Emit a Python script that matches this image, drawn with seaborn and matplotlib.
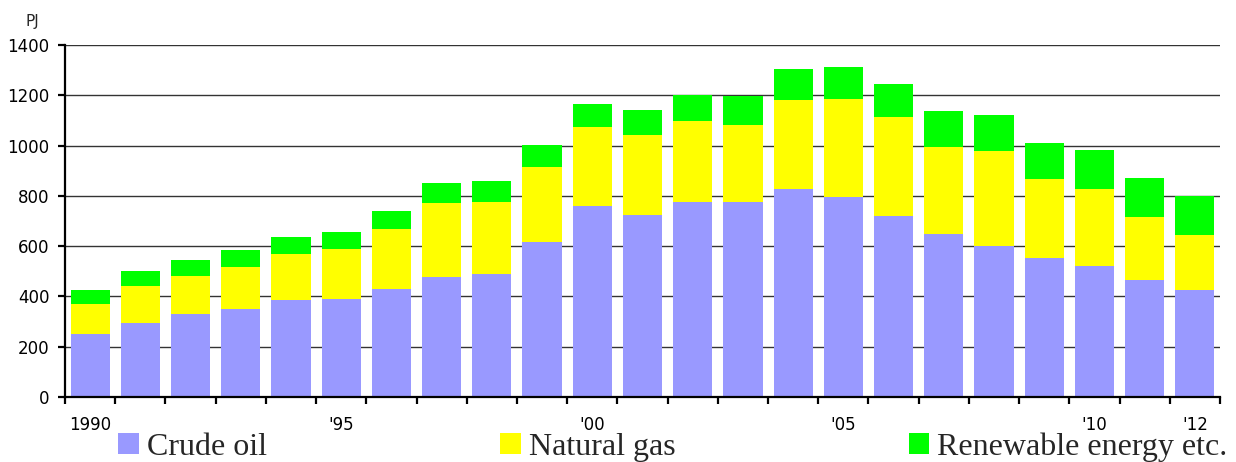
import numpy as np
import pandas as pd
import matplotlib
matplotlib.use("Agg")
import matplotlib.pyplot as plt
from matplotlib.patches import Patch
import seaborn as sns

years = list(range(1990, 2013))
crude_oil = [251, 296, 329, 349, 385, 389, 429, 476, 488, 616, 759, 723, 775, 775, 827,
             795, 719, 648, 600, 552, 520, 465, 425]
natural_gas = [119, 146, 151, 167, 183, 199, 239, 295, 287, 298, 315, 319, 323, 307, 354,
               390, 394, 346, 378, 315, 307, 250, 219]
renewable = [55, 58, 64, 68, 68, 68, 71, 80, 84, 88, 91, 99, 103, 115, 124,
             128, 132, 143, 143, 143, 155, 156, 155]
series_names = ["Crude oil", "Natural gas", "Renewable energy etc."]
colors = ["#9999FF", "#FFFF00", "#00FF00"]
tick_labels = {1990: "1990", 1995: "'95", 2000: "'00", 2005: "'05", 2010: "'10", 2012: "'12"}

sns.set_theme(style="white")
plt.rcParams['font.family'] = ['DejaVu Sans']

df = pd.DataFrame({"year": [str(y) for y in years], "oil": crude_oil,
                   "gas": natural_gas, "ren": renewable})
df["gas_top"] = df["oil"] + df["gas"]
df["total"] = df["gas_top"] + df["ren"]

fig = plt.figure(figsize=(12.36, 4.62), dpi=100)
ax = fig.add_axes([65/1236, 1 - 397/462, (1220-65)/1236, (397-45)/462])

for col, c in zip(["total", "gas_top", "oil"], [colors[2], colors[1], colors[0]]):
    sns.barplot(data=df, x="year", y=col, color=c, width=0.78, ax=ax,
                saturation=1, linewidth=0, errorbar=None, zorder=3)

ax.set_xlim(-0.5, len(years) - 0.5)
ax.set_ylim(0, 1400)
ax.set_yticks(np.arange(0, 1401, 200))
ax.yaxis.grid(True, color="#333333", linewidth=1.0, zorder=0)
ax.set_axisbelow(True)
for s in ["top", "right"]:
    ax.spines[s].set_visible(False)
for s in ["left", "bottom"]:
    ax.spines[s].set_visible(True)
    ax.spines[s].set_color("black")
    ax.spines[s].set_linewidth(1.6)
    ax.spines[s].set_zorder(5)

pos = [years.index(y) for y in tick_labels]
ax.set_xticks(pos)
ax.set_xticklabels(list(tick_labels.values()))
ax.set_xticks(np.arange(-0.5, len(years), 1.0), minor=True)
ax.tick_params(axis="x", which="major", length=0, pad=13.5, labelsize=12, colors="black")
ax.tick_params(axis="x", which="minor", length=5, width=1.6, direction="out", bottom=True, color="black")
ax.tick_params(axis="y", which="major", length=5, width=1.6, direction="out", left=True,
               pad=6, labelsize=12, colors="black")
ax.set_xlabel("")
ax.set_ylabel("")

fig.text(32/1236, 1 - 21.5/462, "PJ", fontsize=11, ha="center", va="center")

handles = [Patch(facecolor=c, edgecolor="none") for c in colors]
fig.legend(handles, series_names, loc="center left", bbox_to_anchor=(118/1236, 1 - 447/462),
           ncol=3, frameon=False, prop={"family": "Liberation Serif", "size": 23},
           handlelength=0.65, handleheight=0.6, handletextpad=0.25, columnspacing=7.3,
           borderpad=0, borderaxespad=0)

fig.savefig("out.png", dpi=100)
